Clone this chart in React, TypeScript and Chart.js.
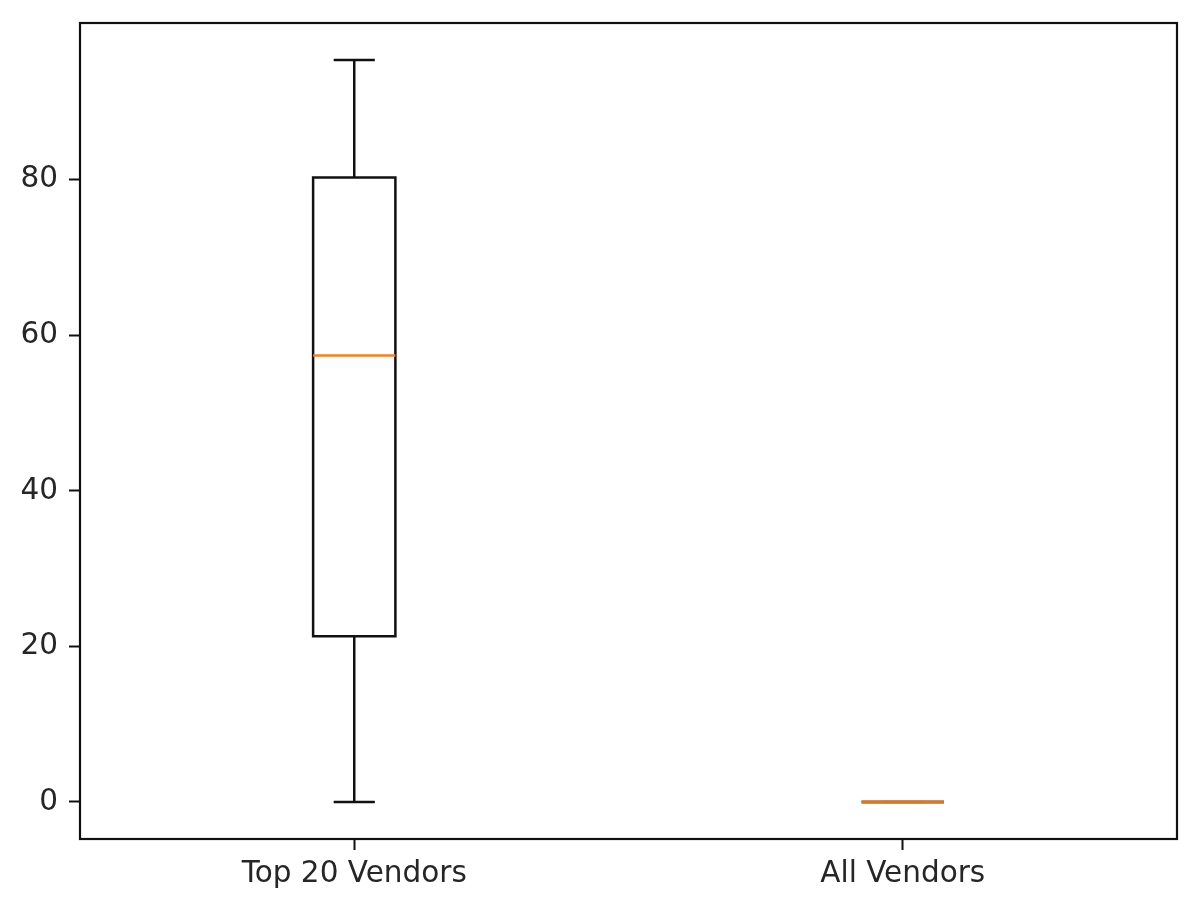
import React, { useEffect, useRef } from "react";
import { Chart, registerables } from "chart.js";

Chart.register(...registerables);

const categories = ["Top 20 Vendors", "All Vendors"];
const positions = [1, 2];
const whiskerLow = [0, 0];
const quartile1 = [21.3, 0];
const medians = [57.4, 0];
const quartile3 = [80.3, 0];
const whiskerHigh = [95.4, 0];
const yTicks = [0, 20, 40, 60, 80];

const BOX_WIDTH = 0.15;
const CAP_WIDTH = 0.075;
const LINE = 2.5;

const boxPlugin = {
  id: "boxDraw",
  afterDatasetsDraw(chart: any) {
    const { ctx, scales, chartArea } = chart;
    const xs = scales.x;
    const ys = scales.y;
    ctx.save();
    ctx.beginPath();
    ctx.rect(chartArea.left, chartArea.top, chartArea.right - chartArea.left, chartArea.bottom - chartArea.top);
    ctx.clip();
    ctx.lineCap = "butt";
    positions.forEach((p, i) => {
      const xl = xs.getPixelForValue(p - BOX_WIDTH / 2);
      const xr = xs.getPixelForValue(p + BOX_WIDTH / 2);
      const xc = xs.getPixelForValue(p);
      const cl = xs.getPixelForValue(p - CAP_WIDTH / 2);
      const cr = xs.getPixelForValue(p + CAP_WIDTH / 2);
      const yq1 = ys.getPixelForValue(quartile1[i]);
      const yq3 = ys.getPixelForValue(quartile3[i]);
      const ymed = ys.getPixelForValue(medians[i]);
      const ylo = ys.getPixelForValue(whiskerLow[i]);
      const yhi = ys.getPixelForValue(whiskerHigh[i]);
      ctx.strokeStyle = "#111111";
      ctx.lineWidth = LINE;
      ctx.beginPath();
      ctx.moveTo(xc, yq1);
      ctx.lineTo(xc, ylo);
      ctx.moveTo(xc, yq3);
      ctx.lineTo(xc, yhi);
      ctx.moveTo(cl, ylo);
      ctx.lineTo(cr, ylo);
      ctx.moveTo(cl, yhi);
      ctx.lineTo(cr, yhi);
      ctx.stroke();
      ctx.beginPath();
      ctx.moveTo(xl, yq1);
      ctx.lineTo(xr, yq1);
      ctx.lineTo(xr, yq3);
      ctx.lineTo(xl, yq3);
      ctx.closePath();
      ctx.stroke();
      ctx.strokeStyle = i === 1 ? "rgba(225,135,60,0.9)" : "#ff7f0e";
      ctx.lineWidth = i === 1 ? 4 : LINE;
      ctx.beginPath();
      ctx.moveTo(xl, ymed);
      ctx.lineTo(xr, ymed);
      ctx.stroke();
    });
    ctx.restore();
    ctx.save();
    ctx.strokeStyle = "#111111";
    ctx.lineWidth = 2.2;
    ctx.strokeRect(chartArea.left, chartArea.top, chartArea.right - chartArea.left, chartArea.bottom - chartArea.top);
    ctx.restore();
  },
};

const maxVal = Math.max(...whiskerHigh);
const minVal = Math.min(...whiskerLow);
const span = maxVal - minVal;

export default function App() {
  const ref = useRef<HTMLCanvasElement | null>(null);
  useEffect(() => {
    if (!ref.current) return;
    const font = { family: "DejaVu Sans", size: 29.5 };
    const chart = new Chart(ref.current, {
      type: "scatter",
      data: { datasets: [{ data: [], pointRadius: 0 }] },
      options: {
        animation: false,
        responsive: false,
        layout: { padding: { top: 23, right: 19, left: 0, bottom: 0 } },
        plugins: { legend: { display: false }, tooltip: { enabled: false } },
        scales: {
          x: {
            type: "linear",
            min: 0.5,
            max: 2.5,
            afterBuildTicks: (s: any) => {
              s.ticks = positions.map((v) => ({ value: v }));
            },
            afterFit: (s: any) => {
              s.height = 64;
              s.paddingLeft = 0;
              s.paddingRight = 0;
            },
            grid: { drawOnChartArea: false, tickLength: 11, tickColor: "#111", tickWidth: 2 },
            border: { display: false },
            ticks: {
              font,
              color: "#262626",
              padding: 7,
              maxRotation: 0,
              autoSkip: false,
              callback: (v: any) => categories[positions.indexOf(Number(v))] ?? "",
            },
          },
          y: {
            type: "linear",
            min: minVal - 0.05 * span,
            max: maxVal + 0.05 * span,
            afterBuildTicks: (s: any) => {
              s.ticks = yTicks.map((v) => ({ value: v }));
            },
            afterFit: (s: any) => {
              s.width = 80;
              s.paddingTop = 0;
              s.paddingBottom = 0;
            },
            grid: { drawOnChartArea: false, tickLength: 11, tickColor: "#111", tickWidth: 2 },
            border: { display: false },
            ticks: { font, color: "#262626", padding: 11, autoSkip: false },
          },
        },
      },
      plugins: [boxPlugin],
    } as any);
    return () => chart.destroy();
  }, []);
  return (
    <div style={{ position: "fixed", left: 0, top: 0, width: 1196, height: 903, background: "#fff" }}>
      <canvas ref={ref} width={1196} height={903} style={{ width: 1196, height: 903 }} />
    </div>
  );
}
